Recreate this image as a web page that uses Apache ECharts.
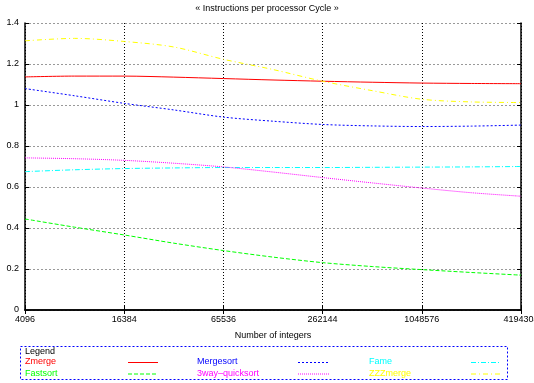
<!DOCTYPE html>
<html>
<head>
<meta charset="utf-8">
<script src="https://cdn.jsdelivr.net/npm/echarts@6/dist/echarts.min.js"></script>
<style>html,body{margin:0;padding:0;background:#fff}#c{width:534px;height:383px}</style>
</head>
<body>
<div id="c"></div>
<script>
const xValues = [4096, 8192, 16384, 32768, 65536, 131072, 262144, 524288, 1048576, 2097152, 4194304];
const xTicks = [4096, 16384, 65536, 262144, 1048576, 4194304];
const yTicks = [0, 0.2, 0.4, 0.6, 0.8, 1, 1.2, 1.4];
const seriesNames = ['Zmerge', 'Mergesort', 'Fame', 'Fastsort', '3way\u2013quicksort', 'ZZZmerge'];
const zmerge    = [1.137, 1.141, 1.141, 1.136, 1.129, 1.122, 1.116, 1.111, 1.107, 1.105, 1.104];
const mergesort = [1.080, 1.045, 1.008, 0.976, 0.941, 0.921, 0.905, 0.898, 0.895, 0.897, 0.902];
const fame      = [0.675, 0.684, 0.690, 0.693, 0.695, 0.695, 0.695, 0.696, 0.697, 0.698, 0.700];
const fastsort  = [0.444, 0.404, 0.366, 0.326, 0.290, 0.258, 0.231, 0.212, 0.197, 0.183, 0.170];
const quick3    = [0.742, 0.738, 0.730, 0.716, 0.698, 0.673, 0.646, 0.620, 0.595, 0.572, 0.555];
const zzzmerge  = [1.313, 1.325, 1.310, 1.283, 1.223, 1.173, 1.116, 1.070, 1.028, 1.015, 1.012];

const values = [zmerge, mergesort, fame, fastsort, quick3, zzzmerge];
const colors = ['#ff0000', '#0000ff', '#00ffff', '#00ff00', '#ff00ff', '#ffff00'];
const dashes = ['solid', [2, 2], [5, 2, 1, 2], [4, 2], [1, 1], [5, 3, 1, 3]];

const FONT = 'Liberation Sans, Arial, sans-serif';
const chart = echarts.init(document.getElementById('c'), null, {renderer: 'canvas'});

const series = seriesNames.map((n, i) => ({
  name: n, type: 'line', xAxisIndex: 0, yAxisIndex: 0,
  data: xValues.map((x, k) => [x, values[i][k]]),
  smooth: 0.3, showSymbol: false, symbol: 'none',
  lineStyle: {color: colors[i], width: 1, type: dashes[i]},
  itemStyle: {color: colors[i]}
}));

// legend drawn as graphic (text then line sample)
const legendGraphic = [{
  type: 'rect', shape: {x: 20.5, y: 346.5, width: 487, height: 33},
  style: {fill: 'none', stroke: '#0000ff', lineWidth: 1, lineDash: [2, 2]}, z: 10
}, {
  type: 'text', x: 25, y: 351.5,
  style: {text: 'Legend', fill: '#000', font: '9px ' + FONT, textVerticalAlign: 'middle'}, z: 10
}];
const colText = [25, 197, 369];
const colLine = [[128, 158], [298, 330], [471, 501]];
const rowY = [362, 373.5];
seriesNames.forEach((n, i) => {
  const r = Math.floor(i / 3), c = i % 3;
  legendGraphic.push({
    type: 'text', x: colText[c], y: rowY[r],
    style: {text: n, fill: colors[i], font: '9px ' + FONT, textVerticalAlign: 'middle'}, z: 10
  });
  legendGraphic.push({
    type: 'line', shape: {x1: colLine[c][0], y1: rowY[r] + 0.5, x2: colLine[c][1], y2: rowY[r] + 0.5},
    style: {stroke: colors[i], lineWidth: 1, lineDash: dashes[i] === 'solid' ? null : dashes[i]}, z: 10
  });
});

const xBase = {
  type: 'log', logBase: 4, min: xTicks[0], max: xTicks[xTicks.length - 1],
  axisLine: {show: true, lineStyle: {color: '#000', width: 1.5}},
  axisTick: {show: true, inside: true, length: 4, lineStyle: {color: '#000'}},
  minorTick: {show: false}
};
const yBase = {
  type: 'value', min: yTicks[0], max: yTicks[yTicks.length - 1], interval: 0.2,
  axisLine: {show: true, lineStyle: {color: '#000', width: 1.5}},
  axisTick: {show: true, inside: true, length: 4, lineStyle: {color: '#000'}}
};

chart.setOption({
  animation: false,
  backgroundColor: '#fff',
  title: {
    text: '\u00ab Instructions per processor Cycle \u00bb', left: 'center', top: 4, padding: 0,
    textStyle: {fontFamily: FONT, fontSize: 9, fontWeight: 'normal', color: '#000'}
  },
  grid: {left: 25, right: 13, top: 23, bottom: 73, containLabel: false, outerBoundsMode: 'none'},
  xAxis: [
    Object.assign({}, xBase, {
      position: 'bottom',
      name: 'Number of integers', nameLocation: 'middle', nameGap: 21,
      nameTextStyle: {fontFamily: FONT, fontSize: 9, color: '#000'},
      axisLabel: {show: true, fontFamily: FONT, fontSize: 9, color: '#000', margin: 5,
        hideOverlap: false, formatter: v => String(Math.round(v))},
      splitLine: {show: true, lineStyle: {color: '#000', width: 1, type: [1, 2]}}
    }),
    Object.assign({}, xBase, {position: 'top', axisLabel: {show: false}, splitLine: {show: false}})
  ],
  yAxis: [
    Object.assign({}, yBase, {
      position: 'left',
      axisLabel: {show: true, fontFamily: FONT, fontSize: 9, color: '#000', margin: 6},
      splitLine: {show: true, lineStyle: {color: '#999', width: 1, type: [2, 2]}}
    }),
    Object.assign({}, yBase, {position: 'right', axisLabel: {show: false}, splitLine: {show: false}})
  ],
  series: series,
  graphic: legendGraphic
});
</script>
</body>
</html>
